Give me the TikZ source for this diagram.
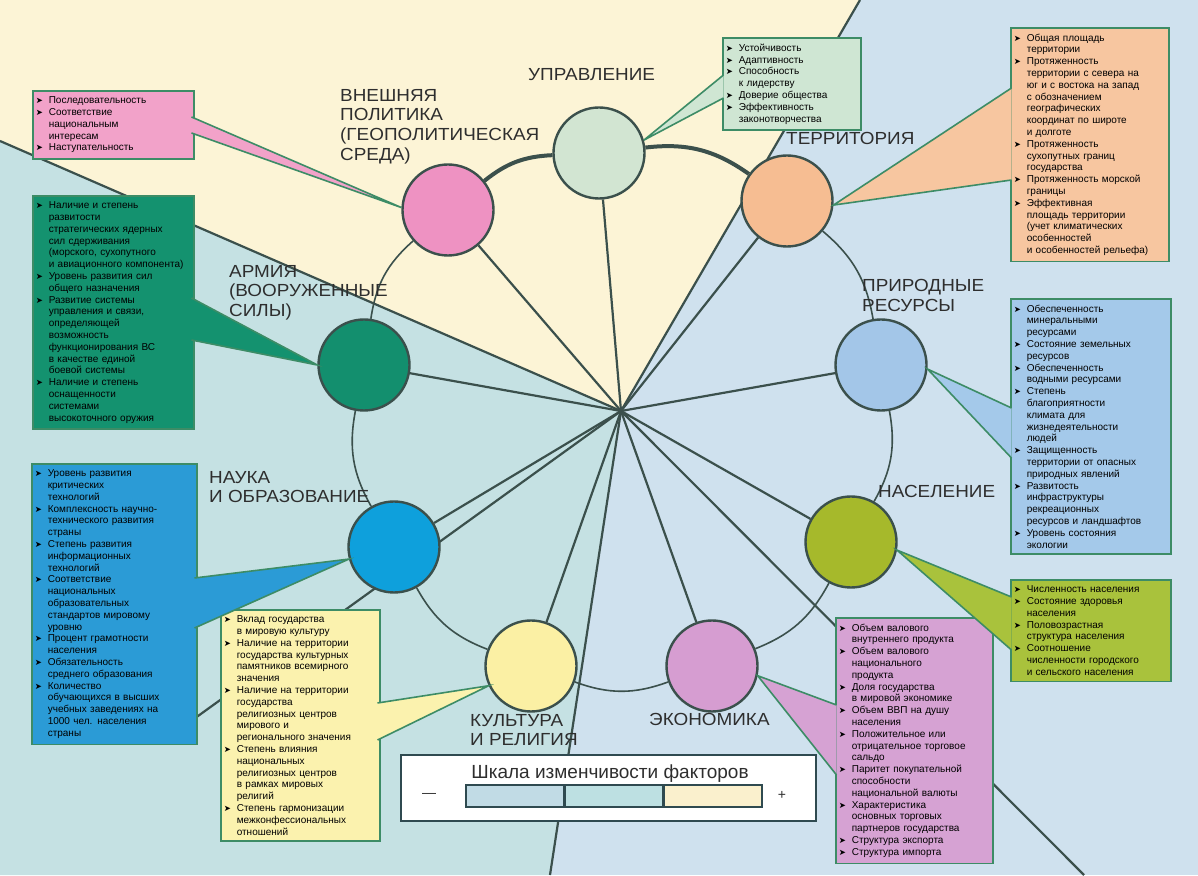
\documentclass[tikz,border=0pt]{standalone}
\usepackage{fontspec}
\setmainfont{Liberation Sans}
\newfontfamily\symb{DejaVu Sans}
\newfontfamily\labelfont[FakeStretch=1.08]{Liberation Sans}
\usetikzlibrary{positioning}
\pgfdeclarelayer{bg}
\pgfdeclarelayer{lines}
\pgfsetlayers{bg,lines,main}

\definecolor{creamC}{HTML}{FCF4D6}
\definecolor{tealC}{HTML}{C5E1E3}
\definecolor{blueC}{HTML}{CFE1EE}
\definecolor{lineC}{HTML}{3B504C}
\definecolor{boxline}{HTML}{3D8C66}
\definecolor{labelC}{HTML}{2E2E2E}
\definecolor{legC}{HTML}{2F4A50}
% circles
\definecolor{uprC}{HTML}{D2E5D2}
\definecolor{vneshC}{HTML}{EE92C2}
\definecolor{terrC}{HTML}{F6BD92}
\definecolor{armyC}{HTML}{138F6E}
\definecolor{prirC}{HTML}{A3C6E8}
\definecolor{naukaC}{HTML}{0EA0DC}
\definecolor{naselC}{HTML}{A6B92B}
\definecolor{kultC}{HTML}{FBF0A4}
\definecolor{ekonC}{HTML}{D69DD1}
% boxes
\definecolor{uprF}{HTML}{CFE6D3}
\definecolor{vneshF}{HTML}{F2A2C9}
\definecolor{terrF}{HTML}{F7C6A0}
\definecolor{armyF}{HTML}{14926F}
\definecolor{prirF}{HTML}{A4C9EA}
\definecolor{naukaF}{HTML}{2B9BD6}
\definecolor{naselF}{HTML}{A9C23C}
\definecolor{kultF}{HTML}{FBF2AE}
\definecolor{ekonF}{HTML}{D6A2D3}
% scale
\definecolor{lowC}{HTML}{C1DBE5}
\definecolor{midC}{HTML}{BDE0E2}
\definecolor{highC}{HTML}{FAF0CD}

\newcommand{\boxfont}{\fontsize{10}{11.8}\selectfont}
\newcommand{\itm}{\makebox[13pt][l]{\symb\fontsize{8.5}{8.5}\selectfont ➤}}
\newcommand{\cnt}{\hspace*{13pt}}

\begin{document}
\begin{tikzpicture}[x=1pt,y=1pt,
  factor/.style={circle, draw=lineC, line width=2.4pt, minimum size=91pt, inner sep=0pt},
  spoke/.style={draw=lineC, line width=2.2pt},
  ring/.style={draw=lineC, line width=1.6pt},
  infobox/.style={draw=boxline, line width=1.6pt, anchor=north west, align=left,
    inner xsep=3pt, inner ysep=6pt, text width=#1, font=\boxfont},
  callout/.style={draw=boxline, line width=1.6pt},
  flabel/.style={anchor=north west, align=left, inner sep=0pt, text=labelC,
    font=\labelfont\fontsize{17.5}{19.6}\selectfont},
  seg/.style={draw=legC, line width=1.5pt, minimum width=97.7pt, minimum height=22pt, inner sep=0pt}]
\useasboundingbox (0,0) rectangle (1198,875);

\coordinate (hub) at (621,464);
\coordinate (edgeNW) at (0,734);
\coordinate (edgeN) at (860,875);
\coordinate (edgeS) at (550,0);
\coordinate (edgeSE) at (1084,0);
\coordinate (edgeSW) at (180,146);

% background sectors
\begin{pgfonlayer}{bg}
\fill[blueC] (0,0) rectangle (1198,875);
\fill[creamC] (0,875) -- (edgeN) -- (hub) -- (edgeNW) -- cycle;
\fill[tealC] (edgeNW) -- (hub) -- (edgeS) -- (0,0) -- cycle;
\end{pgfonlayer}

% factors
\foreach \n/\x/\y in {upr/599/722, vnesh/448/665, terr/787/674, army/364/510, prir/881/510,
  nauka/394/328, nasel/851/333, kult/531/209, ekon/712/209}
  \node[factor, fill=\n C] (\n) at (\x,\y) {};

\begin{pgfonlayer}{lines}
\foreach \n in {upr, vnesh, terr, army, prir, nauka, nasel, kult, ekon}
  \draw[spoke] (hub) -- (\n);
\foreach \e in {edgeNW, edgeN, edgeS, edgeSE, edgeSW}
  \draw[spoke] (hub) -- (\e);
\draw[ring, line width=4pt] (vnesh) to[bend left=18] (upr);
\draw[ring, line width=4pt] (upr) to[bend left=21] (terr);
\foreach \a/\b in {terr/prir, prir/nasel, nasel/ekon, ekon/kult, kult/nauka, nauka/army, army/vnesh}
  \draw[ring] (\a) to[bend left=20] (\b);
\end{pgfonlayer}

% indicator boxes
\node[infobox=132pt, fill=uprF] (uprBox) at (722,838) {%
\itm Устойчивость\\
\itm Адаптивность\\
\itm Способность\\
\cnt к лидерству\\
\itm Доверие общества\\
\itm Эффективность\\
\cnt законотворчества};

\node[infobox=155pt, fill=vneshF] (vneshBox) at (32,785) {%
\itm Последовательность\\
\itm Соответствие\\
\cnt национальным\\
\cnt интересам\\
\itm Наступательность};

\node[infobox=152pt, fill=terrF] (terrBox) at (1010,848) {%
\itm Общая площадь\\
\cnt территории\\
\itm Протяженность\\
\cnt территории с севера на\\
\cnt юг и с востока на запад\\
\cnt с обозначением\\
\cnt географических\\
\cnt координат по широте\\
\cnt и долготе\\
\itm Протяженность\\
\cnt сухопутных границ\\
\cnt государства\\
\itm Протяженность морской\\
\cnt границы\\
\itm Эффективная\\
\cnt площадь территории\\
\cnt (учет климатических\\
\cnt особенностей\\
\cnt и особенностей рельефа)};

\node[infobox=155pt, fill=armyF, text=black] (armyBox) at (32,680) {%
\itm Наличие и степень\\
\cnt развитости\\
\cnt стратегических ядерных\\
\cnt сил сдерживания\\
\cnt (морского, сухопутного\\
\cnt и авиационного компонента)\\
\itm Уровень развития сил\\
\cnt общего назначения\\
\itm Развитие системы\\
\cnt управления и связи,\\
\cnt определяющей\\
\cnt возможность\\
\cnt функционирования ВС\\
\cnt в качестве единой\\
\cnt боевой системы\\
\itm Наличие и степень\\
\cnt оснащенности\\
\cnt системами\\
\cnt высокоточного оружия};

\node[infobox=154pt, fill=prirF] (prirBox) at (1010,577) {%
\itm Обеспеченность\\
\cnt минеральными\\
\cnt ресурсами\\
\itm Состояние земельных\\
\cnt ресурсов\\
\itm Обеспеченность\\
\cnt водными ресурсами\\
\itm Степень\\
\cnt благоприятности\\
\cnt климата для\\
\cnt жизнедеятельности\\
\cnt людей\\
\itm Защищенность\\
\cnt территории от опасных\\
\cnt природных явлений\\
\itm Развитость\\
\cnt инфраструктуры\\
\cnt рекреационных\\
\cnt ресурсов и ландшафтов\\
\itm Уровень состояния\\
\cnt экологии};

\node[infobox=159pt, fill=naukaF] (naukaBox) at (31,412) {%
\itm Уровень развития\\
\cnt критических\\
\cnt технологий\\
\itm Комплексность научно-\\
\cnt технического развития\\
\cnt страны\\
\itm Степень развития\\
\cnt информационных\\
\cnt технологий\\
\itm Соответствие\\
\cnt национальных\\
\cnt образовательных\\
\cnt стандартов мировому\\
\cnt уровню\\
\itm Процент грамотности\\
\cnt населения\\
\itm Обязательность\\
\cnt среднего образования\\
\itm Количество\\
\cnt обучающихся в высших\\
\cnt учебных заведениях на\\
\cnt 1000 чел. населения\\
\cnt страны};

\node[infobox=154pt, fill=naselF] (naselBox) at (1010,296) {%
\itm Численность населения\\
\itm Состояние здоровья\\
\cnt населения\\
\itm Половозрастная\\
\cnt структура населения\\
\itm Соотношение\\
\cnt численности городского\\
\cnt и сельского населения};

\node[infobox=153pt, fill=kultF] (kultBox) at (220,266) {%
\itm Вклад государства\\
\cnt в мировую культуру\\
\itm Наличие на территории\\
\cnt государства культурных\\
\cnt памятников всемирного\\
\cnt значения\\
\itm Наличие на территории\\
\cnt государства\\
\cnt религиозных центров\\
\cnt мирового и\\
\cnt регионального значения\\
\itm Степень влияния\\
\cnt национальных\\
\cnt религиозных центров\\
\cnt в рамках мировых\\
\cnt религий\\
\itm Степень гармонизации\\
\cnt межконфессиональных\\
\cnt отношений};

\node[infobox=151pt, fill=ekonF] (ekonBox) at (835,258) {%
\itm Объем валового\\
\cnt внутреннего продукта\\
\itm Объем валового\\
\cnt национального\\
\cnt продукта\\
\itm Доля государства\\
\cnt в мировой экономике\\
\itm Объем ВВП на душу\\
\cnt населения\\
\itm Положительное или\\
\cnt отрицательное торговое\\
\cnt сальдо\\
\itm Паритет покупательной\\
\cnt способности\\
\cnt национальной валюты\\
\itm Характеристика\\
\cnt основных торговых\\
\cnt партнеров государства\\
\itm Структура экспорта\\
\itm Структура импорта};

% pointers from boxes to circles
\foreach \n/\xa/\ya/\yb/\t in {upr/723.5/800/777/16, vnesh/191.5/758/742/177,
  terr/1011.5/787/695/-5, army/191.5/577/535/180, prir/1011.5/467/417/-5,
  nauka/194.5/297/247/195, nasel/1011.5/278/225/-10, kult/377.5/172/135/205,
  ekon/836.5/170/100/-12}{
  \coordinate (\n A) at (\xa,\ya);
  \coordinate (\n B) at (\xa,\yb);
  \draw[callout, fill=\n F] (\n A) -- (\n.\t) -- (\n B);
}

% factor names
\node[flabel] (uprL) at (528,807) {УПРАВЛЕНИЕ};
\node[flabel] (vneshL) at (340,786) {ВНЕШНЯЯ\\ПОЛИТИКА\\(ГЕОПОЛИТИЧЕСКАЯ\\СРЕДА)};
\node[flabel] (terrL) at (786,743) {ТЕРРИТОРИЯ};
\node[flabel] (prirL) at (862,596) {ПРИРОДНЫЕ\\РЕСУРСЫ};
\node[flabel] (naselL) at (878,390) {НАСЕЛЕНИЕ};
\node[flabel] (armyL) at (229,610) {АРМИЯ\\(ВООРУЖЕННЫЕ\\СИЛЫ)};
\node[flabel] (naukaL) at (209,404) {НАУКА\\И ОБРАЗОВАНИЕ};
\node[flabel] (kultL) at (470,161) {КУЛЬТУРА\\И РЕЛИГИЯ};
\node[flabel] (ekonL) at (649,162) {ЭКОНОМИКА};

% scale of variability
\node[draw=legC, fill=white, line width=1.5pt, minimum width=415pt, minimum height=66pt,
  anchor=north west, inner sep=0pt] (legend) at (400,121) {};
\node[anchor=base, text=labelC, font=\fontsize{19}{19}\selectfont] (legT) at (610,97) {Шкала изменчивости факторов};
\node[seg, fill=lowC, anchor=north west] (seg1) at (465,91) {};
\node[seg, fill=midC, anchor=west] (seg2) at (seg1.east) {};
\node[seg, fill=highC, anchor=west] (seg3) at (seg2.east) {};
\node[text=labelC, font=\fontsize{14}{14}\selectfont] (minus) at (429,80) {—};
\node[text=labelC, font=\fontsize{14}{14}\selectfont] (plus) at (782,80) {+};
\end{tikzpicture}
\end{document}
